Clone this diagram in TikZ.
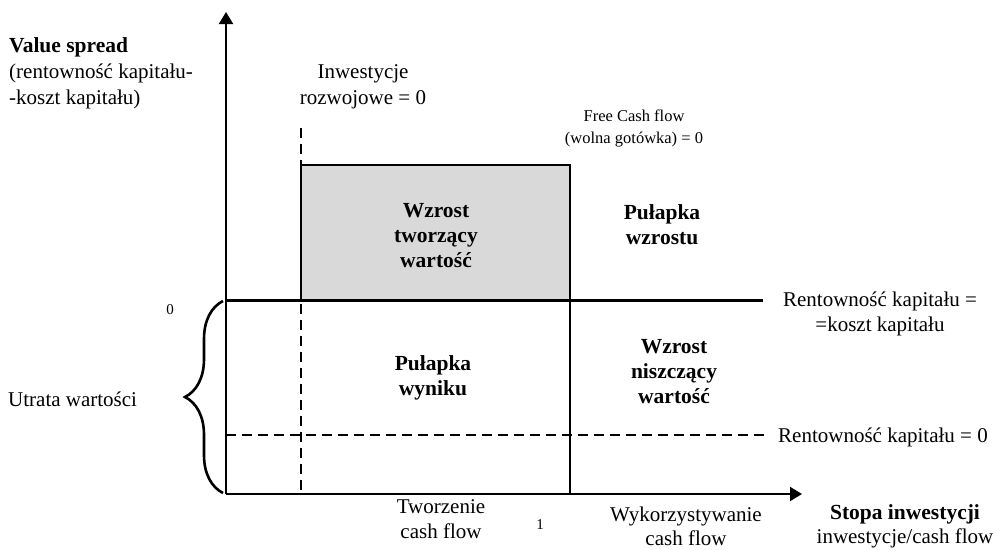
\documentclass[tikz,border=0pt]{standalone}
\usepackage{fontspec}
\setmainfont{Liberation Serif}
\usetikzlibrary{arrows.meta,decorations.pathreplacing}
\begin{document}
\begin{tikzpicture}[x=1pt,y=-1pt,
  txt/.style={font=\fontsize{21}{25.5}\selectfont, align=center, inner sep=0pt},
  btxt/.style={font=\fontsize{21.5}{25}\selectfont\bfseries, align=center, inner sep=0pt},
  smalltxt/.style={font=\fontsize{16.5}{22}\selectfont, align=center, inner sep=0pt},
  tinytxt/.style={font=\fontsize{15}{16}\selectfont, inner sep=0pt},
  axis/.style={line width=2pt, -{Triangle[length=12pt,width=14pt]}},
  thinline/.style={line width=2pt},
  dashline/.style={line width=1.5pt, dash pattern=on 10pt off 6pt}]
\useasboundingbox (0,0) rectangle (993,549);
% coordinates
\coordinate (O) at (226,494);
\coordinate (ytip) at (226,12);
\coordinate (xtip) at (802,494);
\coordinate (z0) at (226,300);
\coordinate (z1) at (763,300);
\coordinate (d0) at (226,435);
\coordinate (d1) at (766,435);
\coordinate (v0) at (301,128);
\coordinate (v1) at (301,494);
\coordinate (r0) at (301,165);
\coordinate (r1) at (570,300);
\coordinate (w0) at (570,165);
\coordinate (w1) at (570,494);
% shaded box
\fill[black!15] (r0) rectangle (r1);
% dashed lines
\draw[dashline] (v0) -- (v1);
\draw[dashline] (d0) -- (d1);
\draw[thinline] (r1) |- (r0) -- (r0 |- r1);
\draw[thinline] (w0) -- (w1);
% zero line
\draw[line width=3pt] (z0) -- (z1);
% axes
\draw[axis] (O) -- (ytip);
\draw[axis] (O) -- (xtip);
% brace
\draw[line width=2.6pt, decorate, decoration={brace, amplitude=38pt, aspect=0.5}] (223,493) -- (223,301);
% texts
\node[anchor=west, align=left, inner sep=0pt, font=\fontsize{21}{26}\selectfont] (vs) at (9,73) {{\fontsize{21.5}{26}\selectfont\textbf{Value spread}}\\(rentowność kapitału-\\-koszt kapitału)};
\node[txt] (inw) at (363,87) {Inwestycje\\rozwojowe = 0};
\node[smalltxt] (fcf) at (634,128) {Free Cash flow\\(wolna gotówka) = 0};
\node[btxt] (wtw) at (436,236) {Wzrost\\tworzący\\wartość};
\node[btxt] (pw) at (662,225) {Pułapka\\wzrostu};
\node[tinytxt] (zero) at (170,310) {0};
\node[txt] (rk) at (880,314) {Rentowność kapitału =\\=koszt kapitału};
\node[btxt] (pwy) at (433,378) {Pułapka\\wyniku};
\node[btxt] (wnw) at (674,372) {Wzrost\\niszczący\\wartość};
\node[txt, anchor=west] (uw) at (8,399) {Utrata wartości};
\node[txt, anchor=west] (rk0) at (778,437) {Rentowność kapitału = 0};
\node[txt] (tcf) at (441,519) {Tworzenie\\cash flow};
\node[tinytxt] (one) at (540,525) {1};
\node[font=\fontsize{21}{24}\selectfont, align=center, inner sep=0pt] (wcf) at (686,526) {Wykorzystywanie\\cash flow};
\node[font=\fontsize{21}{24}\selectfont, align=center, inner sep=0pt] (si) at (905,526) {{\fontsize{21.5}{24}\selectfont\textbf{Stopa inwestycji}}\\inwestycje/cash flow};
\end{tikzpicture}
\end{document}
